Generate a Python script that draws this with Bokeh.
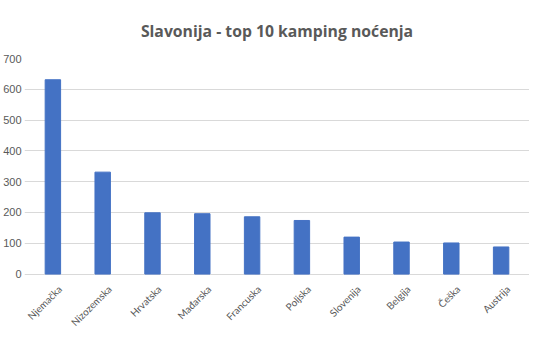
import math
from bokeh.plotting import figure
from bokeh.models import FixedTicker, Title, Range1d, ColumnDataSource, LabelSet
from bokeh.core.properties import value
from bokeh.embed import file_html
from bokeh.resources import INLINE

countries = ["Njemačka", "Nizozemska", "Hrvatska", "Mađarska", "Francuska",
             "Poljska", "Slovenija", "Belgija", "Češka", "Austrija"]
nights = [631, 331, 199, 196, 186, 174, 120, 104, 101, 88]
y_ticks = [0, 100, 200, 300, 400, 500, 600, 700]

src = ColumnDataSource(dict(country=countries, nights=nights,
                            base=[0] * len(countries)))

# value axis spans 222 px; 54 px below the zero line are kept for the
# rotated category labels inside the frame
y_max = 700
y_min = -y_max * 54 / 222

p = figure(x_range=countries, width=529, height=326, output_backend="svg",
           toolbar_location=None, x_axis_location=None,
           min_border_left=0, min_border_right=0,
           min_border_top=0, min_border_bottom=0)
p.y_range = Range1d(y_min, y_max)
p.x_range.range_padding = 0.014
p.vbar(x="country", top="nights", width=0.31, color="#4472c4", source=src)

t = Title(text="Slavonija - top 10 kamping noćenja", align="center",
          text_font="Open Sans", text_font_size="15.75px", text_font_style="bold",
          text_color="#595959", standoff=34, offset=-12)
p.add_layout(t, "above")

p.outline_line_color = None
p.xgrid.grid_line_color = None
p.ygrid.grid_line_color = "#d9d9d9"
p.ygrid.ticker = FixedTicker(ticks=y_ticks)
p.yaxis.ticker = FixedTicker(ticks=y_ticks)
p.yaxis.axis_line_color = None
p.yaxis.major_tick_line_color = None
p.yaxis.minor_tick_line_color = None
p.yaxis.major_tick_out = 0
p.yaxis.major_tick_in = 0
p.yaxis.minor_tick_out = 0
p.yaxis.major_label_standoff = 3
p.yaxis.major_label_text_font = "Liberation Sans"
p.yaxis.major_label_text_font_size = "11px"
p.yaxis.major_label_text_color = "#595959"

labels = LabelSet(x="country", y="base", text="country", source=src,
                  angle=math.pi / 4, text_align="right", text_baseline="middle",
                  x_offset=7, y_offset=-13, text_font=value("Lato"),
                  text_font_size=value("10px"), text_color="#595959")
p.add_layout(labels)

open("out.html", "w").write(file_html(p, INLINE))
